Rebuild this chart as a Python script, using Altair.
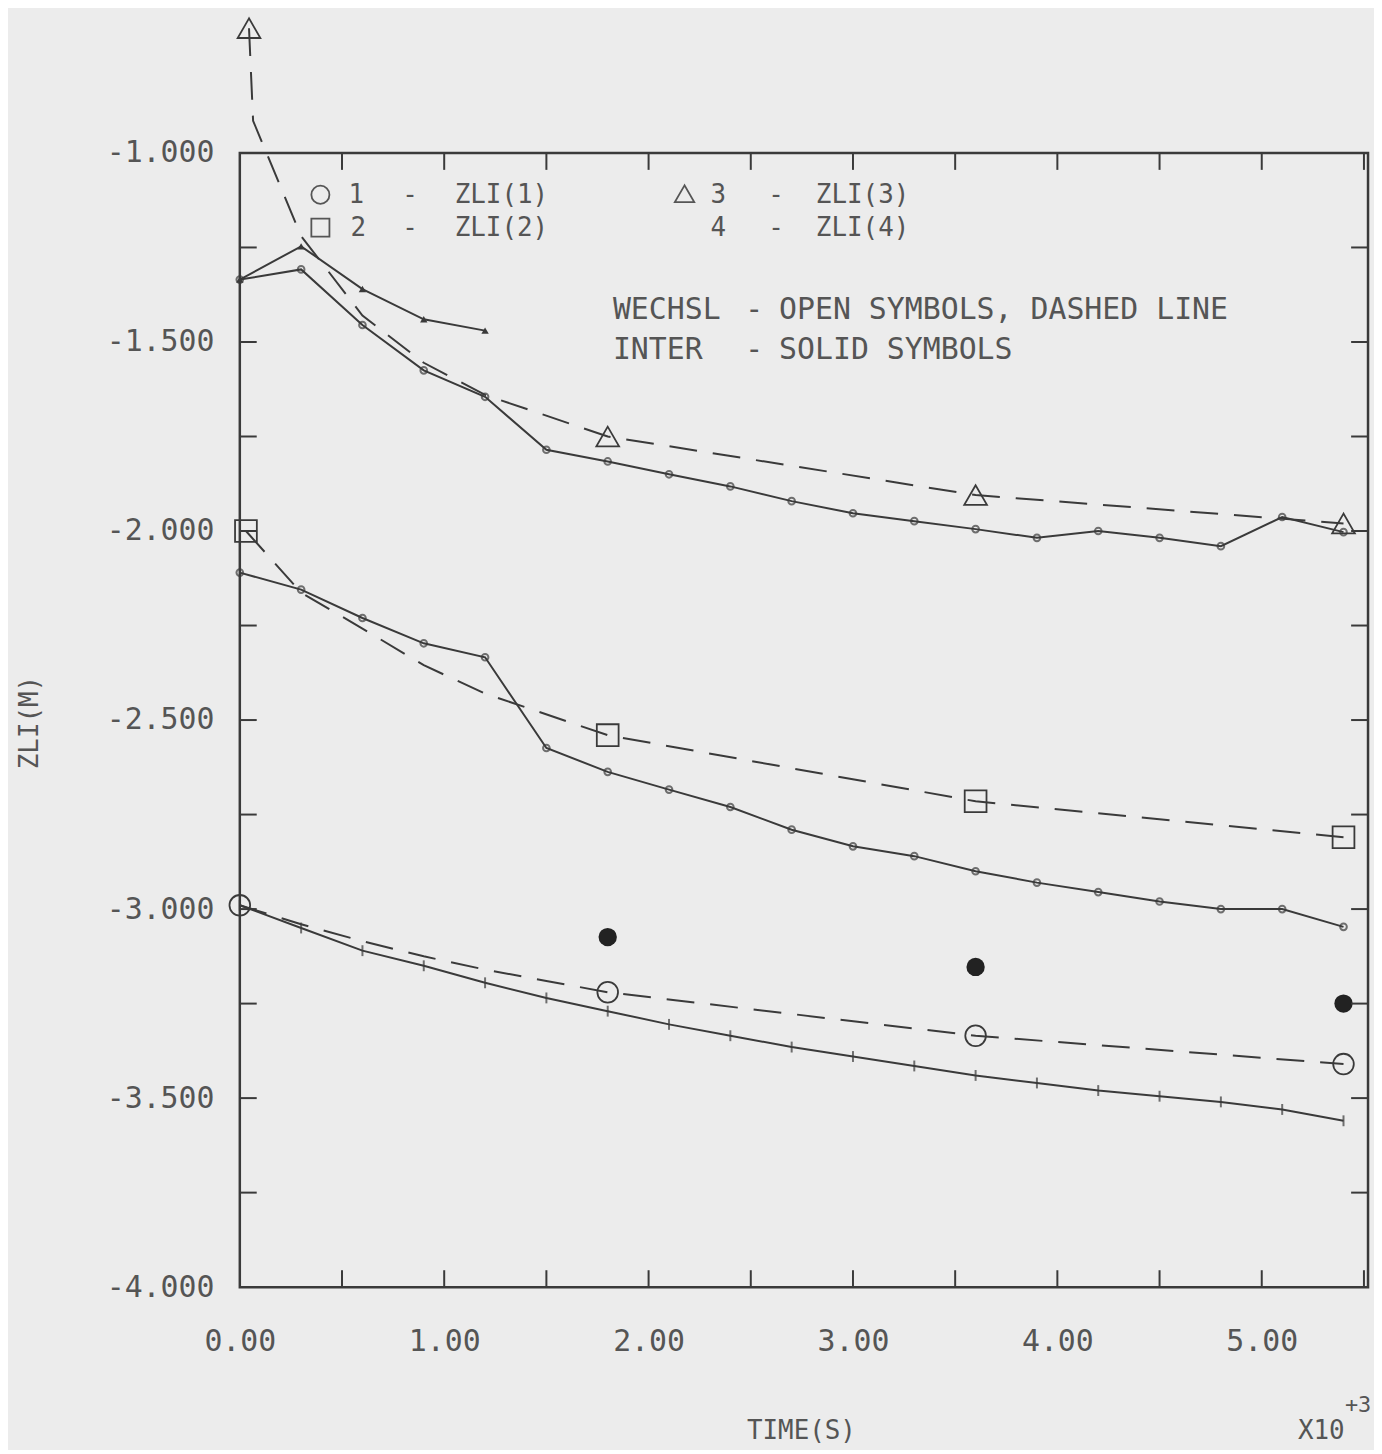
import altair as alt
import pandas as pd

# ---------------- data ----------------
# INTER (solid symbols, solid lines), time in 10^3 s
T_INTER = [0.0, 0.3, 0.6, 0.9, 1.2, 1.5, 1.8, 2.1, 2.4, 2.7, 3.0, 3.3, 3.6, 3.9, 4.2, 4.5, 4.8, 5.1, 5.4]
Z1_INTER = [-2.99, -3.05, -3.11, -3.15, -3.195, -3.235, -3.27, -3.305, -3.335, -3.365, -3.39,
            -3.415, -3.44, -3.46, -3.48, -3.495, -3.51, -3.53, -3.56]
Z2_INTER = [-2.11, -2.155, -2.23, -2.297, -2.334, -2.574, -2.637, -2.684, -2.73, -2.79, -2.834,
            -2.86, -2.9, -2.93, -2.955, -2.98, -3.0, -3.0, -3.047]
Z3_INTER = [-1.335, -1.308, -1.455, -1.575, -1.645, -1.785, -1.816, -1.85, -1.882, -1.921, -1.953,
            -1.974, -1.995, -2.018, -2.0, -2.018, -2.04, -1.963, -2.003]
T4_INTER = [0.0, 0.3, 0.6, 0.9, 1.2]
Z4_INTER = [-1.335, -1.247, -1.36, -1.44, -1.47]

# INTER large solid circles
T_SOLID = [1.8, 3.6, 5.4]
Z_SOLID = [-3.074, -3.153, -3.25]

# WECHSL (open symbols, dashed lines) - line vertices
T1_WL = [0.0, 0.3, 0.6, 0.9, 1.2, 1.5, 1.8, 3.6, 5.4]
Z1_WL = [-2.99, -3.04, -3.085, -3.125, -3.16, -3.19, -3.22, -3.335, -3.41]
T2_WL = [0.03, 0.3, 0.6, 0.9, 1.2, 1.8, 3.6, 5.4]
Z2_WL = [-2.0, -2.163, -2.258, -2.355, -2.43, -2.54, -2.715, -2.81]
T3_WL = [0.045, 0.065, 0.3, 0.6, 0.9, 1.2, 1.8, 3.6, 5.4]
Z3_WL = [-0.67, -0.915, -1.22, -1.43, -1.555, -1.64, -1.75, -1.905, -1.98]

# WECHSL open symbols
T1_SYM = [0.0, 1.8, 3.6, 5.4]
Z1_SYM = [-2.99, -3.22, -3.335, -3.41]
T2_SYM = [0.03, 1.8, 3.6, 5.4]
Z2_SYM = [-2.0, -2.54, -2.715, -2.81]
T3_SYM = [0.045, 1.8, 3.6, 5.4]
Z3_SYM = [-0.67, -1.75, -1.905, -1.98]

# axis ticks / labels
X_LABELS = [0, 1, 2, 3, 4, 5]
Y_LABELS = [-1.0, -1.5, -2.0, -2.5, -3.0, -3.5, -4.0]
X_TICKS = [0.5, 1.0, 1.5, 2.0, 2.5, 3.0, 3.5, 4.0, 4.5, 5.0, 5.5]
Y_TICKS = [-1.25, -1.5, -1.75, -2.0, -2.25, -2.5, -2.75, -3.0, -3.25, -3.5, -3.75]

# ---------------- build tables ----------------
def frame(ts, zs, s):
    return pd.DataFrame({"t": ts, "z": zs, "s": [s] * len(ts)})

inter = pd.concat([frame(T_INTER, Z1_INTER, "1"), frame(T_INTER, Z2_INTER, "2"),
                   frame(T_INTER, Z3_INTER, "3"), frame(T4_INTER, Z4_INTER, "4")])
wl = pd.concat([frame(T1_WL, Z1_WL, "1"), frame(T2_WL, Z2_WL, "2"), frame(T3_WL, Z3_WL, "3")])
solid = frame(T_SOLID, Z_SOLID, "1")
sym1 = frame(T1_SYM, Z1_SYM, "1")
sym2 = frame(T2_SYM, Z2_SYM, "2")
sym3 = frame(T3_SYM, Z3_SYM, "3")
xt = pd.DataFrame({"t": X_TICKS})
yt = pd.DataFrame({"z": Y_TICKS})
one = pd.DataFrame({"a": [0]})

INK = "#3a3a3a"
TXT = "#555555"
FONT = "DejaVu Sans Mono"

W, H = 1134, 1140

xs = alt.Scale(domain=[0, 5.52], nice=False, zero=False)
ys = alt.Scale(domain=[-4, -1], nice=False, zero=False)

xaxis = alt.Axis(values=X_LABELS, format=".2f", title="TIME(S)", ticks=False, tickSize=0,
                 domain=False, grid=False, labelPadding=40, labelFlush=False,
                 labelOverlap=False, labelFontSize=30, labelColor=TXT, labelFont=FONT,
                 titleX=564, titleY=144, titleFontSize=26, titleFont=FONT,
                 titleFontWeight="normal", titleColor=TXT, titleBaseline="middle",
                 titleAlign="center")
yaxis = alt.Axis(values=Y_LABELS, title="ZLI(M)", ticks=False, tickSize=0, domain=False,
                 grid=False, labelPadding=26, labelFlush=False, labelOverlap=False,
                 labelExpr="replace(format(datum.value, '.3f'), '\u2212', '-')",
                 labelFontSize=30, labelColor=TXT, labelFont=FONT, labelBaseline="middle",
                 titleAngle=270, titleX=-211, titleY=572, titleFontSize=26, titleFont=FONT,
                 titleFontWeight="normal", titleColor=TXT, titleBaseline="middle",
                 titleAlign="center")

X = alt.X("t:Q", scale=xs, axis=xaxis)
Y = alt.Y("z:Q", scale=ys, axis=yaxis)

layers = []

# inter solid lines
layers.append(alt.Chart(inter).mark_line(color=INK, strokeWidth=2).encode(
    x=X, y=Y, detail="s:N"))
# inter small markers
layers.append(alt.Chart(inter).transform_filter("datum.s == '1'").mark_point(
    shape="M0,-1L0,1", filled=False, size=120, color=INK, strokeWidth=2).encode(x=X, y=Y))
layers.append(alt.Chart(inter).transform_filter("datum.s == '2' || datum.s == '3'").mark_point(
    shape="circle", filled=False, size=45, color=INK, strokeWidth=2).encode(x=X, y=Y))
layers.append(alt.Chart(inter).transform_filter("datum.s == '4'").mark_point(
    shape="triangle-up", filled=True, size=55, color=INK, opacity=1).encode(x=X, y=Y))
# wechsl dashed lines
layers.append(alt.Chart(wl).mark_line(color=INK, strokeWidth=2, strokeDash=[28, 16]).encode(
    x=X, y=Y, detail="s:N"))
# wechsl open symbols
layers.append(alt.Chart(sym1).mark_point(shape="circle", filled=False, size=430, color=INK,
                                         strokeWidth=1.8, opacity=1).encode(x=X, y=Y))
layers.append(alt.Chart(sym2).mark_point(shape="square", filled=False, size=480, color=INK,
                                         strokeWidth=1.8, opacity=1).encode(x=X, y=Y))
layers.append(alt.Chart(sym3).mark_point(shape="triangle-up", filled=False, size=520, color=INK,
                                         strokeWidth=1.8, opacity=1).encode(x=X, y=Y))
# inter large solid circles
layers.append(alt.Chart(solid).mark_point(shape="circle", filled=True, size=340, color="#222222",
                                          opacity=1).encode(x=X, y=Y))
# inward ticks
TL = 17
layers.append(alt.Chart(xt).mark_rule(color=INK, strokeWidth=2).encode(
    x=X, y=alt.value(0), y2=alt.value(TL)))
layers.append(alt.Chart(xt).mark_rule(color=INK, strokeWidth=2).encode(
    x=X, y=alt.value(H - TL), y2=alt.value(H)))
layers.append(alt.Chart(yt).mark_rule(color=INK, strokeWidth=2).encode(
    y=Y, x=alt.value(0), x2=alt.value(TL)))
layers.append(alt.Chart(yt).mark_rule(color=INK, strokeWidth=2).encode(
    y=Y, x=alt.value(W - TL), x2=alt.value(W)))

# legend inside plot
def txt(s, x, y, size=26, align="left"):
    return alt.Chart(one).mark_text(font=FONT, fontSize=size, color=TXT, align=align,
                                    baseline="middle").encode(
        x=alt.value(x), y=alt.value(y), text=alt.value(s))

def glyph(shape, x, y, size):
    return alt.Chart(one).mark_point(shape=shape, filled=False, size=size, color=TXT,
                                     strokeWidth=1.8, opacity=1).encode(
        x=alt.value(x), y=alt.value(y))

R1, R2 = 42, 75
layers += [
    glyph("circle", 81, R1, 330), txt("1", 117, R1, align="center"), txt("-", 171, R1, align="center"),
    txt("ZLI(1)", 216, R1),
    glyph("triangle-up", 447, R1 - 1, 380), txt("3", 481, R1, align="center"),
    txt("-", 539, R1, align="center"), txt("ZLI(3)", 579, R1),
    glyph("square", 81, R2, 330), txt("2", 119, R2, align="center"), txt("-", 171, R2, align="center"),
    txt("ZLI(2)", 216, R2),
    txt("4", 481, R2, align="center"), txt("-", 539, R2, align="center"), txt("ZLI(4)", 579, R2),
    txt("WECHSL", 375, 158, size=30), txt("-", 517, 158, size=30, align="center"),
    txt("OPEN SYMBOLS, DASHED LINE", 542, 158, size=30),
    txt("INTER", 375, 198, size=30), txt("-", 517, 198, size=30, align="center"),
    txt("SOLID SYMBOLS", 542, 198, size=30),
    txt("X10", 1087, 1285, size=26, align="center"),
    txt("+3", 1124, 1258, size=22, align="center"),
]

chart = alt.layer(*layers).properties(
    width=W, height=H,
    padding={"left": 233, "top": 142, "right": 6, "bottom": 160},
    autosize=alt.AutoSizeParams(type="none"),
    background="#ececec",
).configure_view(stroke=INK, strokeWidth=2.5)

chart.save("out.html", embed_options={"renderer": "svg", "actions": False})
